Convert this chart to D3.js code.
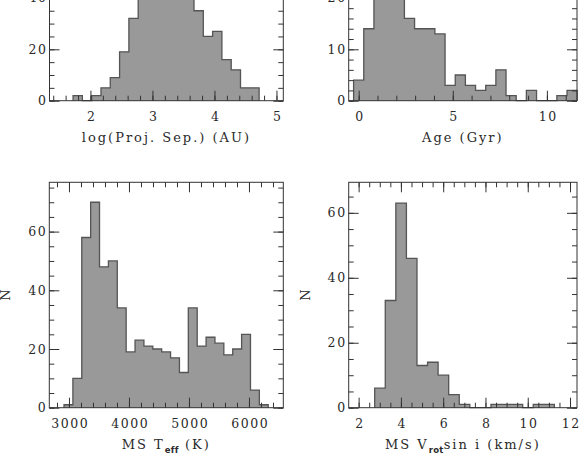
<!DOCTYPE html>
<html>
<head>
<meta charset="utf-8">
<script src="https://cdn.jsdelivr.net/npm/d3@7"></script>
<style>
  body { margin: 0; background: #fff; }
  svg text { font-family: "DejaVu Serif", serif; fill: #2a2a2a; }
</style>
</head>
<body>
<script>
// histogram data (bin start, bin width, counts per bin)
const sepStart = 1.72, sepWidth = 0.15;
const sepCounts = [2, 0, 2, 5, 9, 19, 32, 48, 62, 72, 80, 66, 52, 35, 25, 27, 16, 12, 5, 5];

const ageStart = -0.27, ageWidth = 0.54;
const ageCounts = [4, 14, 28, 40, 33, 16, 14, 14, 13, 3, 5, 3, 2, 3, 6, 1, 0, 2, 0, 0, 1, 2];

const teffStart = 2917, teffWidth = 148;
const teffCounts = [1, 10, 58, 70, 48, 50, 34, 19, 23, 21, 20, 19, 17, 12, 34, 21, 24, 22, 18, 20, 25, 6, 1];

const vrotStart = 2.76, vrotWidth = 0.5;
const vrotCounts = [6, 33, 63, 46, 13, 14, 10, 4, 1, 0, 0, 1, 1, 1, 0, 1, 1];

// tick labels
const sepTicks = [2, 3, 4, 5];
const ageTicks = [0, 5, 10];
const teffTicks = [3000, 4000, 5000, 6000];
const vrotTicks = [2, 4, 6, 8, 10, 12];
const sepYTicks = [0, 20, 40, 60, 80];
const ageYTicks = [0, 10, 20, 30, 40];
const teffYTicks = [0, 20, 40, 60];
const vrotYTicks = [0, 20, 40, 60];

const W = 582, H = 455;

const svg = d3.select('body').append('svg')
  .attr('width', W)
  .attr('height', H);

// panel layout (pixel frame + axis limits)
const panels = [
  { counts: sepCounts, start: sepStart, bw: sepWidth, xDom: [1.34, 5.11], yDom: [0, 87.7],
    xTicks: sepTicks, xMinor: 0.2, yTicks: sepYTicks, yMinor: 5,
    x0: 49.5, x1: 283.3, y0: -124.7, y1: 100.7,
    title: [['log(Proj. Sep.) (AU)']], ylab: false },
  { counts: ageCounts, start: ageStart, bw: ageWidth, xDom: [-0.53, 11.6], yDom: [0, 43.85],
    xTicks: ageTicks, xMinor: 1, yTicks: ageYTicks, yMinor: 2,
    x0: 348.7, x1: 577, y0: -124.7, y1: 100.7,
    title: [['Age (Gyr)']], ylab: false },
  { counts: teffCounts, start: teffStart, bw: teffWidth, xDom: [2672, 6572], yDom: [0, 76.8],
    xTicks: teffTicks, xMinor: 200, yTicks: teffYTicks, yMinor: 5,
    x0: 49.3, x1: 283.3, y0: 182.3, y1: 407.7,
    title: [['MS T'], ['eff', true], [' (K)']], ylab: true },
  { counts: vrotCounts, start: vrotStart, bw: vrotWidth, xDom: [1.53, 12.33], yDom: [0, 69.4],
    xTicks: vrotTicks, xMinor: 0.5, yTicks: vrotYTicks, yMinor: 5,
    x0: 348.7, x1: 577, y0: 182.3, y1: 407.7,
    title: [['MS V'], ['rot', true], ['sin i (km/s)']], ylab: true }
];

const fmt = d3.format('d');

panels.forEach(p => {
  const x = d3.scaleLinear().domain(p.xDom).range([p.x0, p.x1]);
  const y = d3.scaleLinear().domain(p.yDom).range([p.y1, p.y0]);

  // step outline of the histogram
  const pts = [];
  p.counts.forEach((c, i) => {
    const a = p.start + i * p.bw;
    pts.push([a, c], [a + p.bw, c]);
  });

  const area = d3.area()
    .x(d => x(d[0]))
    .y0(y(0))
    .y1(d => y(d[1]));

  const line = d3.line()
    .x(d => x(d[0]))
    .y(d => y(d[1]));

  const g = svg.append('g');

  g.append('path')
    .attr('d', area(pts))
    .attr('fill', '#999');

  g.append('path')
    .attr('d', line([[p.start, 0], ...pts, [pts[pts.length - 1][0], 0]]))
    .attr('fill', 'none')
    .attr('stroke', '#555')
    .attr('stroke-width', 1.3);

  // minor + major ticks on all four sides
  const xMinor = d3.range(Math.ceil(p.xDom[0] / p.xMinor) * p.xMinor, p.xDom[1], p.xMinor);
  const yMinor = d3.range(0, p.yDom[1], p.yMinor);
  // only label what falls inside the picture
  const yLab = p.yTicks.filter(v => y(v) > -6);

  const addAxis = (axis, tx, ty, labels) => {
    const a = g.append('g')
      .attr('transform', `translate(${tx},${ty})`)
      .call(axis);
    a.select('.domain').remove();
    a.selectAll('line').attr('stroke', '#333');
    if (!labels) a.selectAll('text').remove();
    else a.selectAll('text')
      .attr('font-family', '"DejaVu Serif", serif')
      .attr('font-size', 12.5)
      .attr('letter-spacing', 1.6)
      .attr('fill', '#2a2a2a');
    return a;
  };

  // bottom
  addAxis(d3.axisBottom(x).tickValues(xMinor).tickSize(-5).tickFormat(''), 0, p.y1, false);
  const bx = addAxis(d3.axisBottom(x).tickValues(p.xTicks).tickSize(-10).tickPadding(11).tickFormat(fmt), 0, p.y1, true);
  bx.selectAll('text').attr('dx', 0.8);
  // top
  addAxis(d3.axisTop(x).tickValues(xMinor).tickSize(-5).tickFormat(''), 0, p.y0, false);
  addAxis(d3.axisTop(x).tickValues(p.xTicks).tickSize(-10).tickFormat(''), 0, p.y0, false);
  // left
  addAxis(d3.axisLeft(y).tickValues(yMinor).tickSize(-5).tickFormat(''), p.x0, 0, false);
  addAxis(d3.axisLeft(y).tickValues(p.yTicks).tickSize(-10).tickFormat(''), p.x0, 0, false);
  addAxis(d3.axisLeft(y).tickValues(yLab).tickSize(0).tickPadding(2).tickFormat(fmt), p.x0, 0, true);
  // right
  addAxis(d3.axisRight(y).tickValues(yMinor).tickSize(-5).tickFormat(''), p.x1, 0, false);
  addAxis(d3.axisRight(y).tickValues(p.yTicks).tickSize(-10).tickFormat(''), p.x1, 0, false);

  // frame
  g.append('rect')
    .attr('x', p.x0).attr('y', p.y0)
    .attr('width', p.x1 - p.x0).attr('height', p.y1 - p.y0)
    .attr('fill', 'none')
    .attr('stroke', '#333')
    .attr('stroke-width', 1);

  // x title
  const t = g.append('text')
    .attr('x', (p.x0 + p.x1) / 2)
    .attr('y', p.y1 + 41)
    .attr('text-anchor', 'middle')
    .attr('font-size', 13)
    .attr('letter-spacing', 2);
  p.title.forEach(([s, sub]) => {
    const ts = t.append('tspan').text(s);
    if (sub) {
      ts.attr('font-family', '"DejaVu Sans", sans-serif')
        .attr('font-weight', 'bold')
        .attr('font-size', 8.5)
        .attr('letter-spacing', 0.3)
        .attr('dy', 4);
    } else if (t.selectAll('tspan').size() > 1) {
      ts.attr('dy', -4);
    }
  });

  if (p.ylab) {
    g.append('text')
      .attr('transform', `translate(${p.x0 - 39},${(p.y0 + p.y1) / 2}) rotate(-90)`)
      .attr('text-anchor', 'middle')
      .attr('font-size', 13)
      .text('N');
  }
});
</script>
</body>
</html>
